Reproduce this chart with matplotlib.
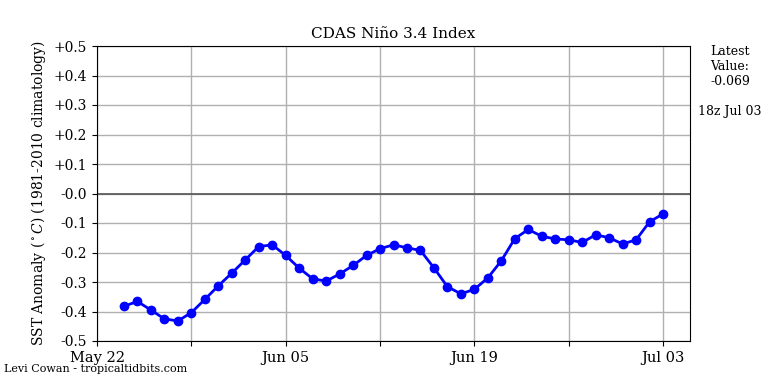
import numpy as np
import pandas as pd
import matplotlib
matplotlib.use("Agg")
import matplotlib.pyplot as plt
import matplotlib.dates as mdates

plt.rcParams['font.family'] = 'DejaVu Serif'
plt.rcParams['mathtext.fontset'] = 'dejavuserif'

# daily Nino 3.4 anomaly values, May 24 - Jul 03
dates = pd.date_range("2024-05-24", "2024-07-03", freq="D")
values = [-0.382, -0.366, -0.395, -0.425, -0.432, -0.404, -0.359, -0.313,
          -0.270, -0.225, -0.180, -0.174, -0.210, -0.253, -0.289, -0.297,
          -0.273, -0.244, -0.210, -0.187, -0.174, -0.184, -0.193, -0.252,
          -0.316, -0.340, -0.325, -0.286, -0.228, -0.153, -0.122, -0.145,
          -0.154, -0.157, -0.166, -0.140, -0.150, -0.171, -0.157, -0.096,
          -0.069]
ytick_vals = [0.5, 0.4, 0.3, 0.2, 0.1, 0.0, -0.1, -0.2, -0.3, -0.4, -0.5]
ytick_labels = ["+0.5", "+0.4", "+0.3", "+0.2", "+0.1", "-0.0",
                "-0.1", "-0.2", "-0.3", "-0.4", "-0.5"]
latest = "-0.069"
latest_time = "18z Jul 03"

fig = plt.figure(figsize=(7.68, 3.84), dpi=100)
ax = fig.add_axes([97/768, 1-341/384, (690-97)/768, (341-46)/384])

ax.axhline(0, color="#555555", lw=1.2, zorder=1)
ax.plot(dates, values, color="#0000ff", lw=2, marker="o", ms=6, zorder=3)

ax.set_xlim(pd.Timestamp("2024-05-22"), pd.Timestamp("2024-07-05"))
ax.set_ylim(-0.5, 0.5)
ax.set_yticks(ytick_vals)
ax.set_yticklabels(ytick_labels, fontsize=10)

ticks = pd.date_range("2024-05-22", "2024-07-03", freq="7D")
ax.set_xticks(ticks)
ax.set_xticklabels([t.strftime("%b %d") if i % 2 == 0 else "" for i, t in enumerate(ticks)],
                   fontsize=10.5)
ax.grid(True, color="#b0b0b0", lw=1)
ax.set_axisbelow(True)

ax.set_title("CDAS Ni\u00f1o 3.4 Index", fontsize=11)
ax.set_ylabel(r"SST Anomaly ($^\circ C$) (1981-2010 climatology)", fontsize=10)

fig.text(730/768, 1-45/384, "Latest\nValue:\n" + latest, ha="center", va="top", fontsize=9)
fig.text(730/768, 1-111/384, latest_time, ha="center", va="center", fontsize=9)
fig.text(4/768, 1-369/384, "Levi Cowan - tropicaltidbits.com", ha="left", va="center",
         fontsize=8)

fig.savefig("out.png", dpi=100)
